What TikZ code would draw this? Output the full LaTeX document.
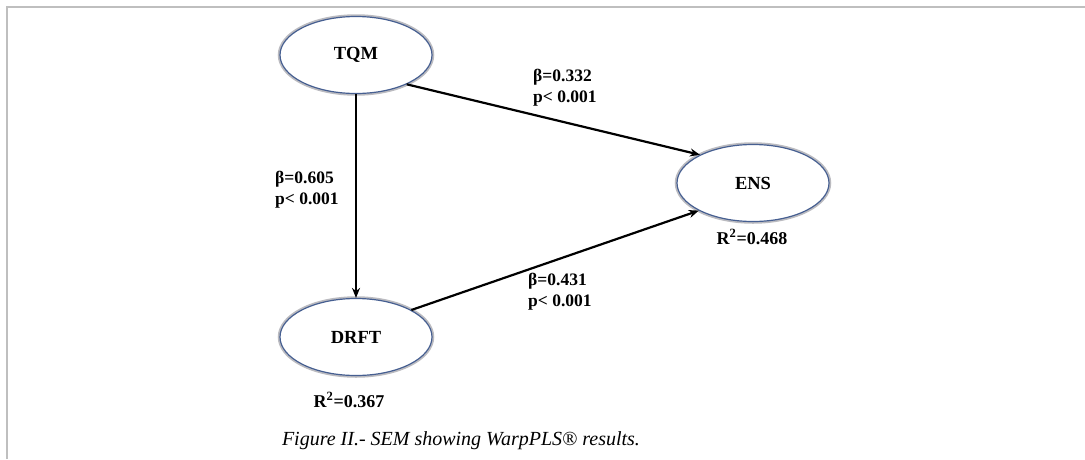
\documentclass[tikz,border=0pt]{standalone}
\usepackage{fontspec}
\setmainfont{Liberation Serif}
\usetikzlibrary{shapes.geometric,arrows.meta}
\definecolor{framegray}{RGB}{191,191,191}
\definecolor{ellblue}{RGB}{70,95,145}
\definecolor{shadowgray}{RGB}{120,120,130}
\tikzset{
  latent/.style={ellipse, draw=ellblue, line width=1.2pt, fill=white,
    minimum width=152pt, minimum height=77pt, inner sep=0pt,
    font=\fontsize{18.5}{21}\selectfont\bfseries,
    preaction={draw=shadowgray, line width=4.5pt, opacity=0.5}},
  path/.style={line width=2.2pt, -{Stealth[length=10pt,width=8pt]}},
  coef/.style={anchor=west, align=left, inner sep=0pt,
    font=\fontsize{17.5}{21}\selectfont\bfseries},
  rsq/.style={inner sep=0pt, font=\fontsize{18}{21}\selectfont\bfseries},
}
\begin{document}
\begin{tikzpicture}[x=1pt,y=-1pt]
\useasboundingbox[fill=white] (0,0) rectangle (1085,459);
\draw[framegray, line width=2pt] (7,459) -- (7,7) -- (1085,7);
\node[latent] (tqm) at (356,55) {TQM};
\node[latent] (ens) at (753,183) {ENS};
\node[latent] (drft) at (356,337) {DRFT};
\draw[path, line width=1.8pt] (tqm.south) -- (drft.north);
\draw[path] (tqm.-30) -- (ens.152);
\draw[path] (drft.26) -- (ens.207);
\node[coef] (c1) at (533,88) {β=0.332\\p< 0.001};
\node[coef] (c2) at (275,190) {β=0.605\\p< 0.001};
\node[coef] (c3) at (528,292) {β=0.431\\p< 0.001};
\node[rsq] (r1) at (752,237) {R\textsuperscript{2}=0.468};
\node[rsq] (r2) at (349,400) {R\textsuperscript{2}=0.367};
\node[inner sep=0pt, font=\fontsize{20}{23}\selectfont\itshape] (cap) at (461,441) {Figure II.- SEM showing WarpPLS® results.};
\end{tikzpicture}
\end{document}
